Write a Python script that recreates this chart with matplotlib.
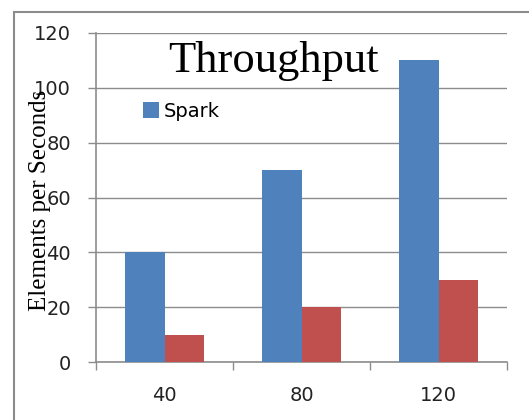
import numpy as np
import matplotlib.pyplot as plt
from matplotlib.patches import Rectangle

categories = ['40', '80', '120']
spark = [40, 70, 110]
other = [10, 20, 30]
yticks = [0, 20, 40, 60, 80, 100, 120]

blue = '#4F81BD'
red = '#C0504D'
gray = '#8c8c8c'

fig = plt.figure(figsize=(5.29, 4.2), dpi=100)
ax = fig.add_axes([96/529, 1-362/420, 411/529, 329/420])

x = np.arange(len(categories))
w = 0.285
ax.bar(x - w/2, spark, w, color=blue, label='Spark', zorder=3)
ax.bar(x + w/2, other, w, color=red, zorder=3)

ax.set_xlim(-0.5, 2.5)
ax.set_ylim(0, 120)
ax.set_yticks(yticks)
ax.set_xticks(x)
ax.set_xticklabels(categories)
ax.set_xticks([-0.5, 0.5, 1.5, 2.5], minor=True)

ax.grid(axis='y', color=gray, linewidth=1, zorder=0)
for s in ['top', 'right']:
    ax.spines[s].set_visible(False)
for s in ['left', 'bottom']:
    ax.spines[s].set_color(gray)
    ax.spines[s].set_linewidth(1.2)

ax.tick_params(axis='y', length=6, color=gray, width=1, pad=12,
               labelsize=14, labelcolor='#222222')
ax.tick_params(axis='x', which='major', length=0, pad=17,
               labelsize=14, labelcolor='#222222')
ax.tick_params(axis='x', which='minor', length=6, color=gray, width=1)

ax.text(0.433, 0.915, 'Throughput', transform=ax.transAxes, ha='center',
        va='center', fontsize=32, family='Liberation Serif', zorder=5)

leg = ax.legend(loc='upper left', bbox_to_anchor=(0.095, 0.815), frameon=False,
                fontsize=14, handlelength=0.85, handleheight=0.85,
                handletextpad=0.25, borderaxespad=0)

fig.text(40/529, 1-200/420, 'Elements per Seconds', rotation=90,
         ha='center', va='center', fontsize=18, family='Liberation Serif')

fig.patches.append(Rectangle((14/529, -0.1), 1.2, 1.1 - 12/420,
                             transform=fig.transFigure, fill=False,
                             edgecolor=gray, linewidth=1.5))

fig.savefig('out.png', dpi=100)
